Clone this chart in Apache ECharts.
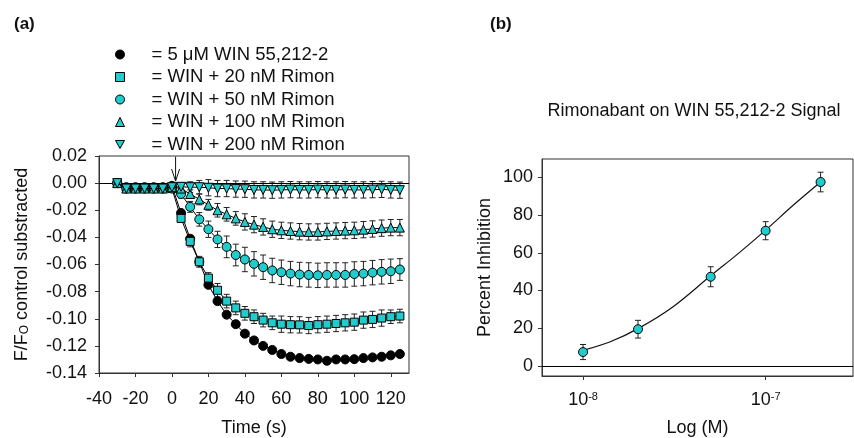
<!DOCTYPE html>
<html><head><meta charset="utf-8">
<script src="https://cdn.jsdelivr.net/npm/echarts@6/dist/echarts.min.js"></script>
<style>html,body{margin:0;padding:0;background:#fff}#c{width:854px;height:438px}</style>
</head><body><div id="c"></div>
<script>
// ---------- Panel (a) data ----------
const times = [-30,-25,-20,-15,-10,-5,0,5,10,15,20,25,30,35,40,45,50,55,60,65,70,75,80,85,90,95,100,105,110,115,120,125];
const seriesNames = ['5 μM WIN 55,212-2','WIN + 20 nM Rimon','WIN + 50 nM Rimon','WIN + 100 nM Rimon','WIN + 200 nM Rimon'];
const win5 = [0,-0.003,-0.003,-0.003,-0.003,-0.003,-0.002,-0.022,-0.041,-0.058,-0.075,-0.087,-0.097,-0.104,-0.111,-0.116,-0.120,-0.123,-0.126,-0.128,-0.129,-0.1296,-0.130,-0.131,-0.130,-0.130,-0.1298,-0.129,-0.1285,-0.128,-0.127,-0.126];
const rim20 = [0,-0.004,-0.004,-0.004,-0.004,-0.004,-0.004,-0.026,-0.043,-0.058,-0.070,-0.079,-0.087,-0.092,-0.096,-0.0985,-0.101,-0.103,-0.104,-0.1044,-0.1045,-0.105,-0.1044,-0.104,-0.1035,-0.103,-0.1025,-0.101,-0.1005,-0.0995,-0.0985,-0.098];
const rim20Err = [0,0.001,0.001,0.001,0.001,0.001,0.001,0.003,0.004,0.004,0.004,0.005,0.005,0.005,0.005,0.005,0.005,0.005,0.006,0.006,0.006,0.006,0.006,0.006,0.006,0.006,0.006,0.006,0.006,0.006,0.005,0.005];
const rim50 = [0,-0.004,-0.004,-0.004,-0.004,-0.004,-0.004,-0.008,-0.0175,-0.0267,-0.034,-0.0415,-0.047,-0.053,-0.0563,-0.0595,-0.062,-0.0644,-0.0657,-0.0667,-0.0674,-0.0677,-0.068,-0.0677,-0.0677,-0.0677,-0.067,-0.0667,-0.066,-0.0654,-0.065,-0.0637];
const rim50Err = [0,0.001,0.001,0.001,0.001,0.001,0.001,0.003,0.004,0.005,0.006,0.006,0.008,0.008,0.009,0.009,0.009,0.009,0.009,0.009,0.009,0.009,0.009,0.009,0.009,0.009,0.009,0.009,0.009,0.009,0.009,0.008];
const rim100 = [0,-0.004,-0.004,-0.004,-0.004,-0.004,-0.003,-0.004,-0.008,-0.012,-0.016,-0.020,-0.023,-0.026,-0.0286,-0.0306,-0.0323,-0.034,-0.0348,-0.0353,-0.0358,-0.036,-0.036,-0.0356,-0.0353,-0.035,-0.0348,-0.0343,-0.0338,-0.0332,-0.0328,-0.0328];
const rim100Err = [0,0.001,0.001,0.001,0.001,0.001,0.001,0.002,0.003,0.004,0.004,0.005,0.005,0.005,0.006,0.006,0.006,0.006,0.006,0.006,0.006,0.006,0.006,0.006,0.006,0.006,0.006,0.006,0.006,0.006,0.006,0.006];
const rim200 = [0,-0.004,-0.004,-0.004,-0.004,-0.004,-0.003,-0.0027,-0.003,-0.003,-0.0034,-0.004,-0.004,-0.0044,-0.0045,-0.005,-0.005,-0.0052,-0.005,-0.0048,-0.005,-0.005,-0.0048,-0.005,-0.005,-0.0048,-0.005,-0.005,-0.0048,-0.0046,-0.005,-0.0052];
const rim200Err = [0,0.001,0.001,0.001,0.001,0.001,0.001,0.003,0.004,0.005,0.006,0.006,0.006,0.006,0.006,0.006,0.006,0.006,0.006,0.006,0.006,0.006,0.006,0.006,0.006,0.006,0.006,0.006,0.006,0.006,0.006,0.006];
const xTicksA = [-40,-20,0,20,40,60,80,100,120];
const yTicksA = [0.02,0,-0.02,-0.04,-0.06,-0.08,-0.10,-0.12,-0.14];
const arrowA = [[2, 0.0195, 0.0015]]; // x, from, to

// ---------- Panel (b) data ----------
const conc = [1e-8, 2e-8, 5e-8, 1e-7, 2e-7];
const inhibition = [7.4, 19.5, 47.3, 71.7, 97.5];
const inhibitionErr = [4.0, 4.7, 5.3, 4.8, 5.2];
const fitConc = [1e-8, 1.4e-8, 2e-8, 3.1e-8, 5e-8, 7.1e-8, 1e-7, 1.42e-7, 2e-7];
const fitValue = [8.3, 12.7, 19.8, 31.3, 47.8, 59.7, 72.0, 85.3, 97.5];
const xTicksB = [1e-8, 1e-7];
const yTicksB = [0, 20, 40, 60, 80, 100];

const FONT = 'Liberation Sans, Arial, Helvetica, sans-serif';
const CYAN = '#22cccc';
const INK = '#111';

const zip = (xs, ys) => xs.map((x, i) => [x, ys[i]]);
const errData = (xs, ys, es) => xs.map((x, i) => [x, ys[i] - es[i], ys[i] + es[i]]).filter((d, i) => es[i] > 0);

function errRender(params, api) {
  const x = api.value(0), lo = api.value(1), hi = api.value(2);
  const a = api.coord([x, lo]), b = api.coord([x, hi]);
  const hw = 3, st = {stroke: '#222', lineWidth: 1};
  return {type: 'group', children: [
    {type: 'line', shape: {x1: a[0], y1: a[1], x2: b[0], y2: b[1]}, style: st},
    {type: 'line', shape: {x1: a[0]-hw, y1: a[1], x2: a[0]+hw, y2: a[1]}, style: st},
    {type: 'line', shape: {x1: b[0]-hw, y1: b[1], x2: b[0]+hw, y2: b[1]}, style: st}
  ]};
}
function arrowRender(params, api) {
  const x = api.value(0);
  const a = api.coord([x, api.value(1)]), b = api.coord([x, api.value(2)]);
  const st = {stroke: '#111', lineWidth: 1, fill: null};
  return {type: 'group', children: [
    {type: 'line', shape: {x1: a[0], y1: a[1], x2: b[0], y2: b[1]}, style: st},
    {type: 'polyline', shape: {points: [[b[0]-4, b[1]-12], [b[0], b[1]], [b[0]+4, b[1]-12]]}, style: st}
  ]};
}

const INV_TRI = 'path://M0,0L10,0L5,9Z';
const markerDefs = [
  {sym: 'circle', size: 9, color: '#000', icon: 'circle'},
  {sym: 'rect', size: 8, color: CYAN, icon: 'rect'},
  {sym: 'circle', size: 9, color: CYAN, icon: 'circle'},
  {sym: 'triangle', size: 9, color: CYAN, icon: 'triangle'},
  {sym: INV_TRI, size: 9, color: CYAN, icon: INV_TRI}
];
const valuesA = [win5, rim20, rim50, rim100, rim200];
const errsA = [null, rim20Err, rim50Err, rim100Err, rim200Err];

const series = [];
valuesA.forEach((vals, k) => {
  if (errsA[k]) {
    series.push({type: 'custom', xAxisIndex: 0, yAxisIndex: 0, z: 1, silent: true,
      renderItem: errRender, data: errData(times, vals, errsA[k]), encode: {x: 0, y: [1, 2]}});
  }
});
valuesA.forEach((vals, k) => {
  const m = markerDefs[k];
  const s = {
    type: 'line', name: seriesNames[k], xAxisIndex: 0, yAxisIndex: 0, z: 3 + k,
    data: zip(times, vals), symbol: m.sym, symbolSize: m.size, showSymbol: true,
    itemStyle: {color: m.color, borderColor: '#000', borderWidth: 1},
    lineStyle: {color: '#000', width: 1}, silent: true
  };
  if (k === 0) {
    s.markLine = {silent: true, symbol: ['none', 'none'], label: {show: false},
      lineStyle: {color: '#000', type: 'solid', width: 1}, data: [{yAxis: 0}]};
  }
  series.push(s);
});
series.push({type: 'custom', xAxisIndex: 0, yAxisIndex: 0, z: 10, silent: true,
  renderItem: arrowRender, data: arrowA});

// panel b
series.push({type: 'custom', xAxisIndex: 1, yAxisIndex: 1, z: 1, silent: true,
  renderItem: errRender, data: errData(conc, inhibition, inhibitionErr), encode: {x: 0, y: [1, 2]}});
series.push({type: 'line', xAxisIndex: 1, yAxisIndex: 1, z: 2, silent: true, data: zip(fitConc, fitValue),
  showSymbol: false, symbol: 'none', smooth: 0.35, lineStyle: {color: '#111', width: 1.2},
  markLine: {silent: true, symbol: ['none', 'none'], label: {show: false},
    lineStyle: {color: '#000', type: 'solid', width: 1}, data: [{yAxis: 0}]}});
series.push({type: 'scatter', xAxisIndex: 1, yAxisIndex: 1, z: 3, silent: true, data: zip(conc, inhibition),
  symbol: 'circle', symbolSize: 9, itemStyle: {color: CYAN, borderColor: '#000', borderWidth: 1, opacity: 1}});

const axisLineStyle = {show: true, onZero: false, lineStyle: {color: '#333', width: 1}};
const labelBase = {fontSize: 18, color: INK, fontFamily: FONT};

const option = {
  animation: false,
  textStyle: {fontFamily: FONT},
  title: [
    {text: '(a)', left: 14, top: 16, padding: 0, textStyle: {fontSize: 17, fontWeight: 'bold', color: INK, fontFamily: FONT}},
    {text: '(b)', left: 490, top: 16, padding: 0, textStyle: {fontSize: 17, fontWeight: 'bold', color: INK, fontFamily: FONT}},
    {text: 'Rimonabant on WIN 55,212-2 Signal', left: 694, top: 102, padding: 0, textAlign: 'center',
      textStyle: {fontSize: 18, fontWeight: 'normal', color: INK, fontFamily: FONT}}
  ],
  legend: {
    orient: 'vertical', left: 110, top: 40, itemWidth: 9, itemHeight: 9, itemGap: 3.5,
    selectedMode: false, formatter: '= {name}',
    textStyle: {fontSize: 18.5, color: INK, fontFamily: FONT, lineHeight: 18, padding: [0, 0, 0, 22]},
    data: seriesNames.map((n, k) => ({name: n, icon: markerDefs[k].icon,
      itemStyle: {color: markerDefs[k].color, borderColor: '#000', borderWidth: 1}}))
  },
  grid: [
    {left: 99, top: 156, width: 310, height: 217, show: true, borderColor: '#333', borderWidth: 1, backgroundColor: 'transparent'},
    {left: 542, top: 159, width: 311, height: 217, show: true, borderColor: '#333', borderWidth: 1, backgroundColor: 'transparent'}
  ],
  xAxis: [
    {type: 'value', gridIndex: 0, min: -40, max: 130, axisLine: axisLineStyle,
      axisTick: {show: true, inside: false, length: 4, customValues: xTicksA, lineStyle: {color: '#333'}},
      axisLabel: Object.assign({customValues: xTicksA, margin: 17}, labelBase),
      splitLine: {show: false},
      name: 'Time (s)', nameLocation: 'middle', nameGap: 46, nameTextStyle: {fontSize: 18, color: INK, fontFamily: FONT}},
    {type: 'log', logBase: 10, gridIndex: 1, min: 5.96e-9, max: 3.01e-7, axisLine: axisLineStyle,
      axisTick: {show: true, inside: false, length: 4, customValues: xTicksB, lineStyle: {color: '#333'}},
      axisLabel: {customValues: xTicksB, margin: 15, color: INK, fontFamily: FONT, fontSize: 18,
        formatter: v => '10{sup|' + Math.round(Math.log10(v)) + '}',
        rich: {sup: {fontSize: 11, verticalAlign: 'top', color: INK, fontFamily: FONT, padding: [0, 0, 8, 0]}}},
      splitLine: {show: false}, minorTick: {show: false},
      name: 'Log (M)', nameLocation: 'middle', nameGap: 43, nameTextStyle: {fontSize: 18, color: INK, fontFamily: FONT}}
  ],
  yAxis: [
    {type: 'value', gridIndex: 0, min: -0.14, max: 0.02, axisLine: axisLineStyle,
      axisTick: {show: true, inside: false, length: 4, customValues: yTicksA, lineStyle: {color: '#333'}},
      axisLabel: Object.assign({customValues: yTicksA, margin: 12, formatter: v => (Math.abs(v) < 1e-9 ? 0 : v).toFixed(2)}, labelBase),
      splitLine: {show: false},
      name: 'F/F{sub|O} control substracted', nameLocation: 'middle', nameGap: 68, nameRotate: 90,
      nameTextStyle: {fontSize: 18, color: INK, fontFamily: FONT,
        rich: {sub: {fontSize: 12, verticalAlign: 'bottom', color: INK, fontFamily: FONT}}}},
    {type: 'value', gridIndex: 1, min: -5.3, max: 109.7, axisLine: axisLineStyle,
      axisTick: {show: true, inside: false, length: 4, customValues: yTicksB, lineStyle: {color: '#333'}},
      axisLabel: Object.assign({customValues: yTicksB, margin: 9}, labelBase),
      splitLine: {show: false},
      name: 'Percent Inhibition', nameLocation: 'middle', nameGap: 48, nameRotate: 90,
      nameTextStyle: {fontSize: 18, color: INK, fontFamily: FONT}}
  ],
  series: series
};
const chart = echarts.init(document.getElementById('c'), null, {renderer: 'canvas'});
chart.setOption(option);
</script></body></html>
